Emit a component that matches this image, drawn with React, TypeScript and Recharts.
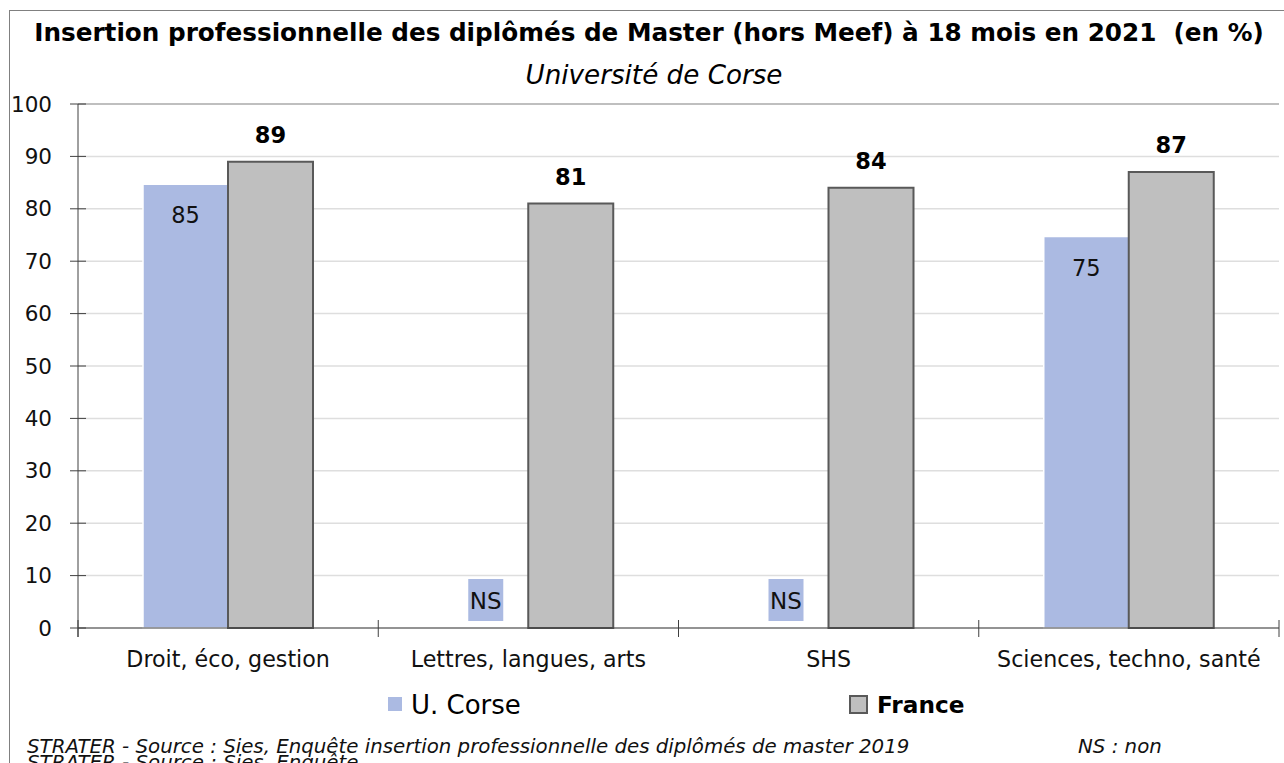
import { Bar, BarChart, CartesianGrid, LabelList, ReferenceLine, XAxis, YAxis } from "recharts"

const categories = ["Droit, éco, gestion", "Lettres, langues, arts", "SHS", "Sciences, techno, santé"]
const corseValues = [84.7, 0, 0, 74.7]
const corseLabels = ["85", "NS", "NS", "75"]
const franceValues = [89, 81, 84, 87]
const yTicks = [0, 10, 20, 30, 40, 50, 60, 70, 80, 90, 100]

const data = categories.map((name, i) => ({
    name,
    corse: corseValues[i],
    corseLabel: corseLabels[i],
    france: franceValues[i],
}))

const FONT = "'DejaVu Sans', sans-serif"
const CORSE = "#abbae2"
const FRANCE = "#bfbfbf"
const FRANCE_STROKE = "#595959"
const AXIS = "#404040"

const YTick = (props: any) => {
    const { x, y, payload } = props
    const axisX = x + 26
    return (
        <g>
            <line x1={axisX - 8} x2={axisX + 8} y1={y} y2={y} stroke={AXIS} strokeWidth={1} />
            {payload.value === 0 && <line x1={axisX} x2={axisX} y1={y} y2={y + 9} stroke={AXIS} />}
            <text x={x} y={y} textAnchor="end" dominantBaseline="central" fontSize={21.5} fill="#111" fontFamily={FONT}>
                {payload.value}
            </text>
        </g>
    )
}

const XTick = (props: any) => {
    const { x, y, payload, index, visibleTicksCount } = props
    const half = payload.offset || 150
    const axisY = y - 22
    const last = index === visibleTicksCount - 1
    return (
        <g>
            <line x1={x - half} x2={x - half} y1={axisY - 8} y2={axisY + 9} stroke={AXIS} />
            {last && <line x1={x + half} x2={x + half} y1={axisY - 8} y2={axisY + 9} stroke={AXIS} />}
            <text x={x} y={y + 9} textAnchor="middle" dominantBaseline="central" fontSize={22.2} fill="#111" fontFamily={FONT}>
                {payload.value}
            </text>
        </g>
    )
}

// value labels inside the U. Corse bars
const CorseLabel = (props: any) => {
    const { x, y, width, value } = props
    if (value === "NS") return null
    return (
        <text x={x + width / 2} y={y + 31} textAnchor="middle" dominantBaseline="central" fontSize={22.5} fill="#111" fontFamily={FONT}>
            {value}
        </text>
    )
}

// "NS" boxes sit where the (empty) U. Corse bar would be, just left of the France bar
const NsLabel = (props: any) => {
    const { x, y, width, height, value } = props
    if (value !== "NS") return null
    const cx = x - width / 2
    const base = y + height
    return (
        <g>
            <rect x={cx - 17.5} y={base - 49} width={35} height={42} fill={CORSE} />
            <text x={cx} y={base - 27} textAnchor="middle" dominantBaseline="central" fontSize={23} fill="#111" fontFamily={FONT}>
                NS
            </text>
        </g>
    )
}

const FranceLabel = (props: any) => {
    const { x, y, width, value } = props
    return (
        <text x={x + width / 2} y={y - 27} textAnchor="middle" dominantBaseline="central" fontSize={22.5} fontWeight="bold" fill="#000" fontFamily={FONT}>
            {value}
        </text>
    )
}

const App = () => {
    return (
        <div style={{ position: "absolute", left: 0, top: 0, width: 1284, height: 763, overflow: "hidden", background: "#fff", fontFamily: FONT }}>
            <div style={{ position: "absolute", left: 9, top: 10, width: 1300, height: 800, border: "1px solid #808080" }} />

            <div style={{ position: "absolute", left: 9, top: 17, width: 1280, textAlign: "center", fontSize: 24.7, fontWeight: "bold", color: "#000", lineHeight: "32px", whiteSpace: "nowrap" }}>
                Insertion professionnelle des diplômés de Master (hors Meef) à 18 mois en 2021&nbsp; (en %)
            </div>
            <div style={{ position: "absolute", left: 14, top: 60, width: 1280, textAlign: "center", fontSize: 26.2, fontStyle: "italic", color: "#000", lineHeight: "30px" }}>
                Université de Corse
            </div>

            <div style={{ position: "absolute", left: 0, top: 0 }}>
                <BarChart width={1284} height={763} data={data} margin={{ top: 104, right: 5, left: 0, bottom: 95 }} barSize={85} barGap={0}>
                    <CartesianGrid vertical={false} stroke="#dedede" strokeWidth={1.5} />
                    <XAxis dataKey="name" height={40} axisLine={{ stroke: AXIS }} tickLine={false} tickSize={8} tickMargin={14} tick={<XTick />} interval={0} />
                    <YAxis domain={[0, 100]} ticks={yTicks} width={78} axisLine={{ stroke: AXIS }} tickLine={false} tickSize={8} tickMargin={18} tick={<YTick />} />
                    <YAxis yAxisId="edge" orientation="right" width={0} domain={[0, 100]} axisLine={{ stroke: "#d9d9d9", strokeWidth: 2 }} tick={false} tickLine={false} />
                    <ReferenceLine y={100} stroke="#bfbfbf" strokeWidth={2} />
                    <Bar dataKey="corse" fill={CORSE} stroke="#fff" strokeWidth={1.5} isAnimationActive={false}>
                        <LabelList dataKey="corseLabel" content={<CorseLabel />} />
                    </Bar>
                    <Bar dataKey="france" fill={FRANCE} stroke={FRANCE_STROKE} strokeWidth={2} isAnimationActive={false}>
                        <LabelList dataKey="france" content={<FranceLabel />} />
                        <LabelList dataKey="corseLabel" content={<NsLabel />} />
                    </Bar>
                </BarChart>
            </div>

            <div style={{ position: "absolute", left: 388, top: 697, width: 14, height: 14, background: CORSE }} />
            <div style={{ position: "absolute", left: 411, top: 690, fontSize: 26, lineHeight: "30px", color: "#000" }}>U. Corse</div>
            <div style={{ position: "absolute", left: 849, top: 695, width: 15, height: 15, background: FRANCE, border: `2px solid ${FRANCE_STROKE}` }} />
            <div style={{ position: "absolute", left: 877, top: 690, fontSize: 23.2, lineHeight: "30px", fontWeight: "bold", color: "#000" }}>France</div>

            <div style={{ position: "absolute", left: 27, top: 735, fontSize: 19.8, fontStyle: "italic", lineHeight: "24px", color: "#111", whiteSpace: "nowrap" }}>
                STRATER - Source : Sies, Enquête insertion professionnelle des diplômés de master 2019
            </div>
            <div style={{ position: "absolute", left: 1078, top: 735, fontSize: 19.8, fontStyle: "italic", lineHeight: "24px", color: "#111", whiteSpace: "nowrap" }}>
                NS : non
            </div>
            <div style={{ position: "absolute", left: 27, top: 751, fontSize: 19.8, fontStyle: "italic", lineHeight: "24px", color: "#111", whiteSpace: "nowrap" }}>
                STRATER - Source : Sies, Enquête
            </div>
        </div>
    )
}

export default App
